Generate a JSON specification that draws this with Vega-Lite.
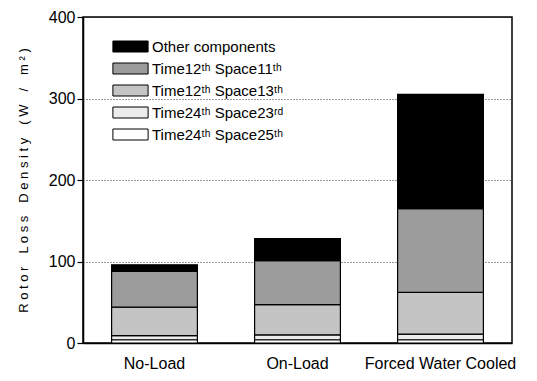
{
  "$schema": "https://vega.github.io/schema/vega-lite/v6.json",
  "autosize": "none",
  "width": 429,
  "height": 326,
  "padding": {"left": 83, "top": 17, "right": 25, "bottom": 38},
  "background": "white",
  "config": {
    "font": "Liberation Sans",
    "view": {"stroke": "black", "strokeWidth": 1.5}
  },
  "data": {
    "values": [
      {"case": "No-Load", "component": "Time24ᵗʰ Space25ᵗʰ", "k": 1, "loss": 4},
      {"case": "No-Load", "component": "Time24ᵗʰ Space23ʳᵈ", "k": 2, "loss": 5},
      {"case": "No-Load", "component": "Time12ᵗʰ Space13ᵗʰ", "k": 3, "loss": 35},
      {"case": "No-Load", "component": "Time12ᵗʰ Space11ᵗʰ", "k": 4, "loss": 44},
      {"case": "No-Load", "component": "Other components", "k": 5, "loss": 8},
      {"case": "On-Load", "component": "Time24ᵗʰ Space25ᵗʰ", "k": 1, "loss": 4},
      {"case": "On-Load", "component": "Time24ᵗʰ Space23ʳᵈ", "k": 2, "loss": 6},
      {"case": "On-Load", "component": "Time12ᵗʰ Space13ᵗʰ", "k": 3, "loss": 37},
      {"case": "On-Load", "component": "Time12ᵗʰ Space11ᵗʰ", "k": 4, "loss": 54},
      {"case": "On-Load", "component": "Other components", "k": 5, "loss": 27},
      {"case": "Forced Water Cooled", "component": "Time24ᵗʰ Space25ᵗʰ", "k": 1, "loss": 4},
      {"case": "Forced Water Cooled", "component": "Time24ᵗʰ Space23ʳᵈ", "k": 2, "loss": 7},
      {"case": "Forced Water Cooled", "component": "Time12ᵗʰ Space13ᵗʰ", "k": 3, "loss": 51},
      {"case": "Forced Water Cooled", "component": "Time12ᵗʰ Space11ᵗʰ", "k": 4, "loss": 103},
      {"case": "Forced Water Cooled", "component": "Other components", "k": 5, "loss": 140}
    ]
  },
  "mark": {"type": "bar", "stroke": "black", "strokeWidth": 1.2},
  "encoding": {
    "x": {
      "field": "case",
      "type": "nominal",
      "sort": ["No-Load", "On-Load", "Forced Water Cooled"],
      "scale": {"paddingInner": 0.4, "paddingOuter": 0.2},
      "axis": {
        "title": null,
        "labelAngle": 0,
        "labelFontSize": 16,
        "labelColor": "black",
        "labelPadding": 12,
        "ticks": false,
        "domainColor": "black",
        "domainWidth": 1.5
      }
    },
    "y": {
      "field": "loss",
      "type": "quantitative",
      "stack": "zero",
      "scale": {"domain": [0, 400]},
      "axis": {
        "title": "R o t o r\u2003L o s s\u2003D e n s i t y\u2003( W\u2003/\u2003m ² )",
        "titleFontSize": 13,
        "titleFontWeight": "normal",
        "titleColor": "black",
        "titlePadding": 18,
        "values": [0, 100, 200, 300, 400],
        "labelFontSize": 16,
        "labelColor": "black",
        "labelPadding": 2,
        "tickColor": "black",
        "tickSize": 6,
        "tickWidth": 1.2,
        "domainColor": "black",
        "domainWidth": 1.5,
        "grid": true,
        "gridColor": "black",
        "gridDash": [1, 2],
        "gridWidth": 0.8
      }
    },
    "order": {"field": "k", "type": "quantitative", "sort": "ascending"},
    "color": {
      "field": "component",
      "type": "nominal",
      "scale": {
        "domain": ["Other components", "Time12ᵗʰ Space11ᵗʰ", "Time12ᵗʰ Space13ᵗʰ", "Time24ᵗʰ Space23ʳᵈ", "Time24ᵗʰ Space25ᵗʰ"],
        "range": ["#000000", "#9c9c9c", "#c4c4c4", "#ececec", "#ffffff"]
      },
      "legend": {
        "title": null,
        "orient": "none",
        "legendX": 36,
        "legendY": 18,
        "symbolType": "M-1.6,-0.5H1.6V0.5H-1.6Z",
        "symbolSize": 484,
        "symbolStrokeColor": "black",
        "symbolStrokeWidth": 1,
        "symbolOpacity": 1,
        "labelFontSize": 15,
        "labelColor": "black",
        "labelOffset": 10,
        "rowPadding": 2,
        "labelLimit": 300
      }
    }
  }
}
